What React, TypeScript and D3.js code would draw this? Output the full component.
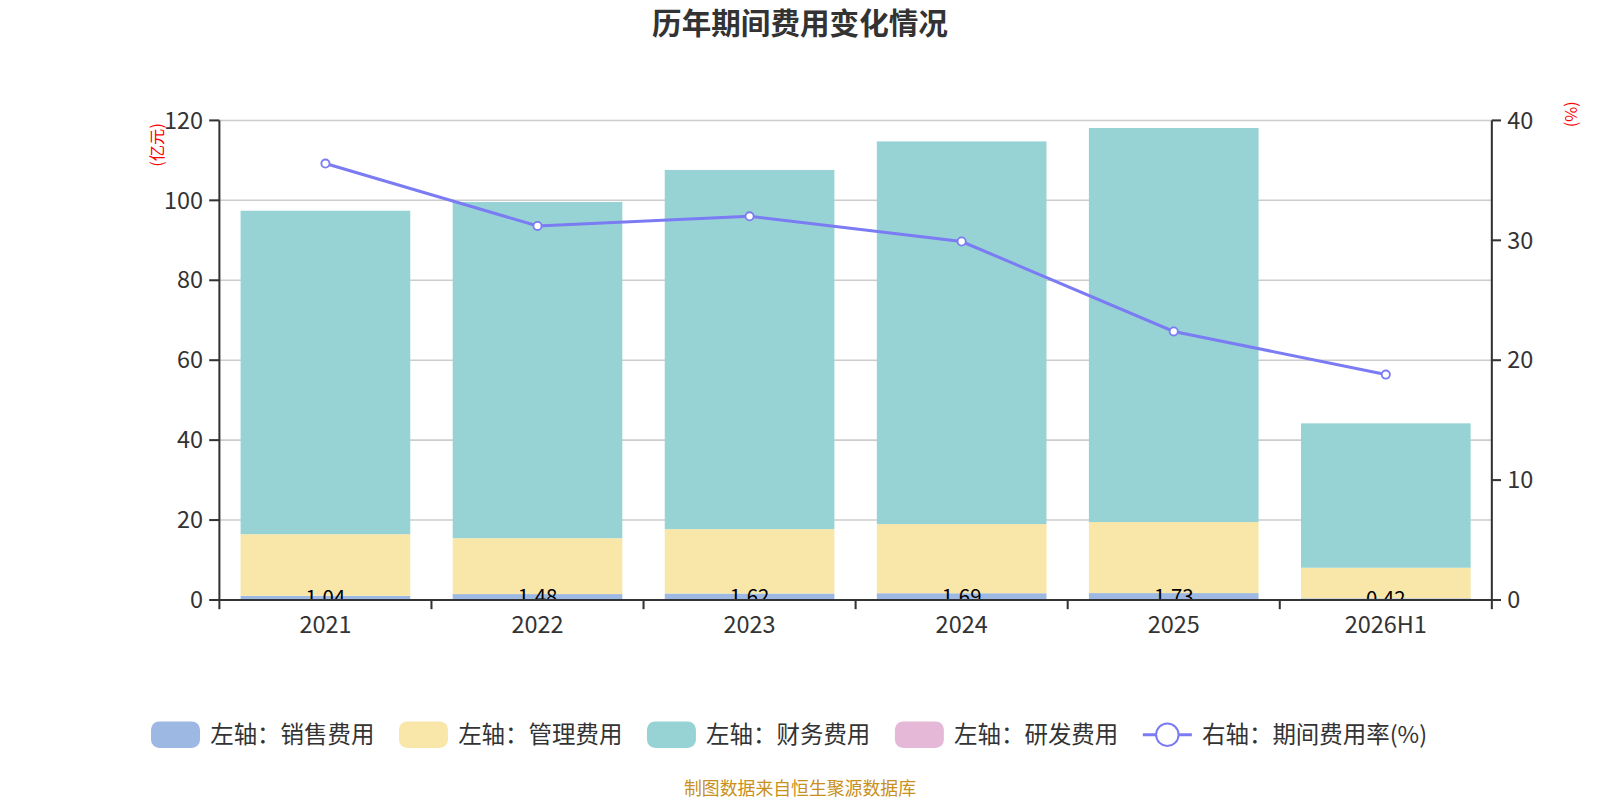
import * as d3 from 'd3';

const categories = ['2021', '2022', '2023', '2024', '2025', '2026H1'];
const salesExpense = [1.04, 1.48, 1.62, 1.69, 1.73, 0.42];
const adminExpense = [15.43, 13.98, 16.11, 17.3, 17.77, 7.65];
const financeExpense = [80.93, 84.14, 89.87, 95.76, 98.6, 36.13];
const rdExpense = [0, 0, 0, 0, 0, 0];
const expenseRate = [36.4, 31.2, 32.0, 29.9, 22.4, 18.8];
const leftTicks = [0, 20, 40, 60, 80, 100, 120];
const rightTicks = [0, 10, 20, 30, 40];

const barSeries = [
  { name: '左轴：销售费用', values: salesExpense, color: '#9db8e2' },
  { name: '左轴：管理费用', values: adminExpense, color: '#f8e7a9' },
  { name: '左轴：财务费用', values: financeExpense, color: '#97d3d4' },
  { name: '左轴：研发费用', values: rdExpense, color: '#e6b8d8' },
];
const lineName = '右轴：期间费用率(%)';
const lineColor = '#7b7bf3';

const FONT = '"Noto Sans CJK SC", "Noto Sans", sans-serif';
// layout was measured on a 1568-wide grid
const K = 1600 / 1568;

export default function App() {
  const margin = { left: 215, right: 1462, top: 118, bottom: 588 };

  const x = d3
    .scaleBand()
    .domain(categories)
    .range([margin.left, margin.right])
    .paddingInner(0.2)
    .paddingOuter(0.1);
  const step = x.step();
  const cx = (c: string) => x(c)! + x.bandwidth() / 2;

  const yL = d3.scaleLinear().domain([0, 120]).range([margin.bottom, margin.top]);
  const yR = d3.scaleLinear().domain([0, 40]).range([margin.bottom, margin.top]);

  // stack the bar series
  const stacked = barSeries.map((s, si) =>
    categories.map((c, i) => {
      let y0 = 0;
      for (let k = 0; k < si; k++) y0 += barSeries[k].values[i];
      return { cat: c, y0, y1: y0 + s.values[i], color: s.color };
    })
  );

  const line = d3
    .line<number>()
    .x((_, i) => cx(categories[i]))
    .y((d) => yR(d));

  // legend layout
  const legendY = 720;
  const items = [
    ...barSeries.map((s) => ({ name: s.name, color: s.color, type: 'bar' })),
    { name: lineName, color: lineColor, type: 'line' },
  ];
  const legendItems = items.map((it, i) => ({ ...it, start: 148 + i * 243 }));

  return (
    <svg
      width={1600}
      height={800}
      style={{ position: 'fixed', left: 0, top: 0, background: '#fff' }}
      fontFamily={FONT}
    >
      <defs>
        <clipPath id="plotClip">
          <rect x={margin.left} y={0} width={margin.right - margin.left} height={margin.bottom - 1} />
        </clipPath>
      </defs>
      <g transform={`scale(${K})`}>
        <text x={784} y={33} textAnchor="middle" fontSize={29} fontWeight="bold" fill="#333">
          历年期间费用变化情况
        </text>

        {/* grid */}
        {leftTicks.map((t) => (
          <line key={t} x1={margin.left} x2={margin.right} y1={yL(t)} y2={yL(t)} stroke="#ccc" strokeWidth={1.5} />
        ))}

        {/* stacked bars */}
        {stacked.map((ser, si) =>
          ser.map((seg) =>
            seg.y1 - seg.y0 > 0 ? (
              <rect
                key={seg.cat + si}
                x={x(seg.cat)!}
                y={yL(seg.y1)}
                width={x.bandwidth()}
                height={yL(seg.y0) - yL(seg.y1)}
                fill={seg.color}
              />
            ) : null
          )
        )}

        {/* sales labels, centred on the thin bottom bar and cut by the axis */}
        <g clipPath="url(#plotClip)">
          {categories.map((c, i) => (
            <text
              key={c}
              x={cx(c)}
              y={yL(salesExpense[i] / 2)}
              dy="0.35em"
              textAnchor="middle"
              fontSize={20}
              fill="#000"
            >
              {salesExpense[i].toFixed(2)}
            </text>
          ))}
        </g>

        {/* left axis */}
        <line x1={margin.left} x2={margin.left} y1={margin.top} y2={margin.bottom} stroke="#333" strokeWidth={2} />
        {leftTicks.map((t) => (
          <g key={t}>
            <line x1={margin.left - 10} x2={margin.left} y1={yL(t)} y2={yL(t)} stroke="#333" strokeWidth={2} />
            <text x={margin.left - 16} y={yL(t)} dy="0.35em" textAnchor="end" fontSize={23} fill="#333">
              {t}
            </text>
          </g>
        ))}
        <text transform="translate(154,142) rotate(-90)" textAnchor="middle" dy="0.35em" fontSize={16} fill="red">
          (亿元)
        </text>

        {/* right axis */}
        <line x1={margin.right} x2={margin.right} y1={margin.top} y2={margin.bottom} stroke="#333" strokeWidth={2} />
        {rightTicks.map((t) => (
          <g key={t}>
            <line x1={margin.right} x2={margin.right + 9} y1={yR(t)} y2={yR(t)} stroke="#333" strokeWidth={2} />
            <text x={margin.right + 15} y={yR(t)} dy="0.35em" textAnchor="start" fontSize={23} fill="#333">
              {t}
            </text>
          </g>
        ))}
        <text transform="translate(1540,112) rotate(-90)" textAnchor="middle" dy="0.35em" fontSize={16} fill="red">
          (%)
        </text>

        {/* x axis */}
        <line x1={margin.left} x2={margin.right} y1={margin.bottom} y2={margin.bottom} stroke="#333" strokeWidth={2} />
        {d3.range(categories.length + 1).map((i) => {
          const px = margin.left + step * i;
          return <line key={i} x1={px} x2={px} y1={margin.bottom} y2={margin.bottom + 9} stroke="#333" strokeWidth={2} />;
        })}
        {categories.map((c) => (
          <text key={c} x={cx(c)} y={620} textAnchor="middle" fontSize={23} fill="#333">
            {c}
          </text>
        ))}

        {/* rate line */}
        <path d={line(expenseRate)!} fill="none" stroke={lineColor} strokeWidth={3} />
        {expenseRate.map((v, i) => (
          <circle key={i} cx={cx(categories[i])} cy={yR(v)} r={4} fill="#fff" stroke={lineColor} strokeWidth={1.8} />
        ))}

        {/* legend */}
        {legendItems.map((it) => (
          <g key={it.name}>
            {it.type === 'bar' ? (
              <rect x={it.start} y={legendY - 13} width={48} height={26} rx={8} fill={it.color} />
            ) : (
              <g>
                <line x1={it.start} x2={it.start + 48} y1={legendY} y2={legendY} stroke={it.color} strokeWidth={3} />
                <circle cx={it.start + 24} cy={legendY} r={11} fill="#fff" stroke={it.color} strokeWidth={2} />
              </g>
            )}
            <text x={it.start + 58} y={legendY} dy="0.35em" fontSize={23} fill="#333">
              {it.name}
            </text>
          </g>
        ))}

        <text x={784} y={779} textAnchor="middle" fontSize={17.5} fill="#c8901c">
          制图数据来自恒生聚源数据库
        </text>
      </g>
    </svg>
  );
}
